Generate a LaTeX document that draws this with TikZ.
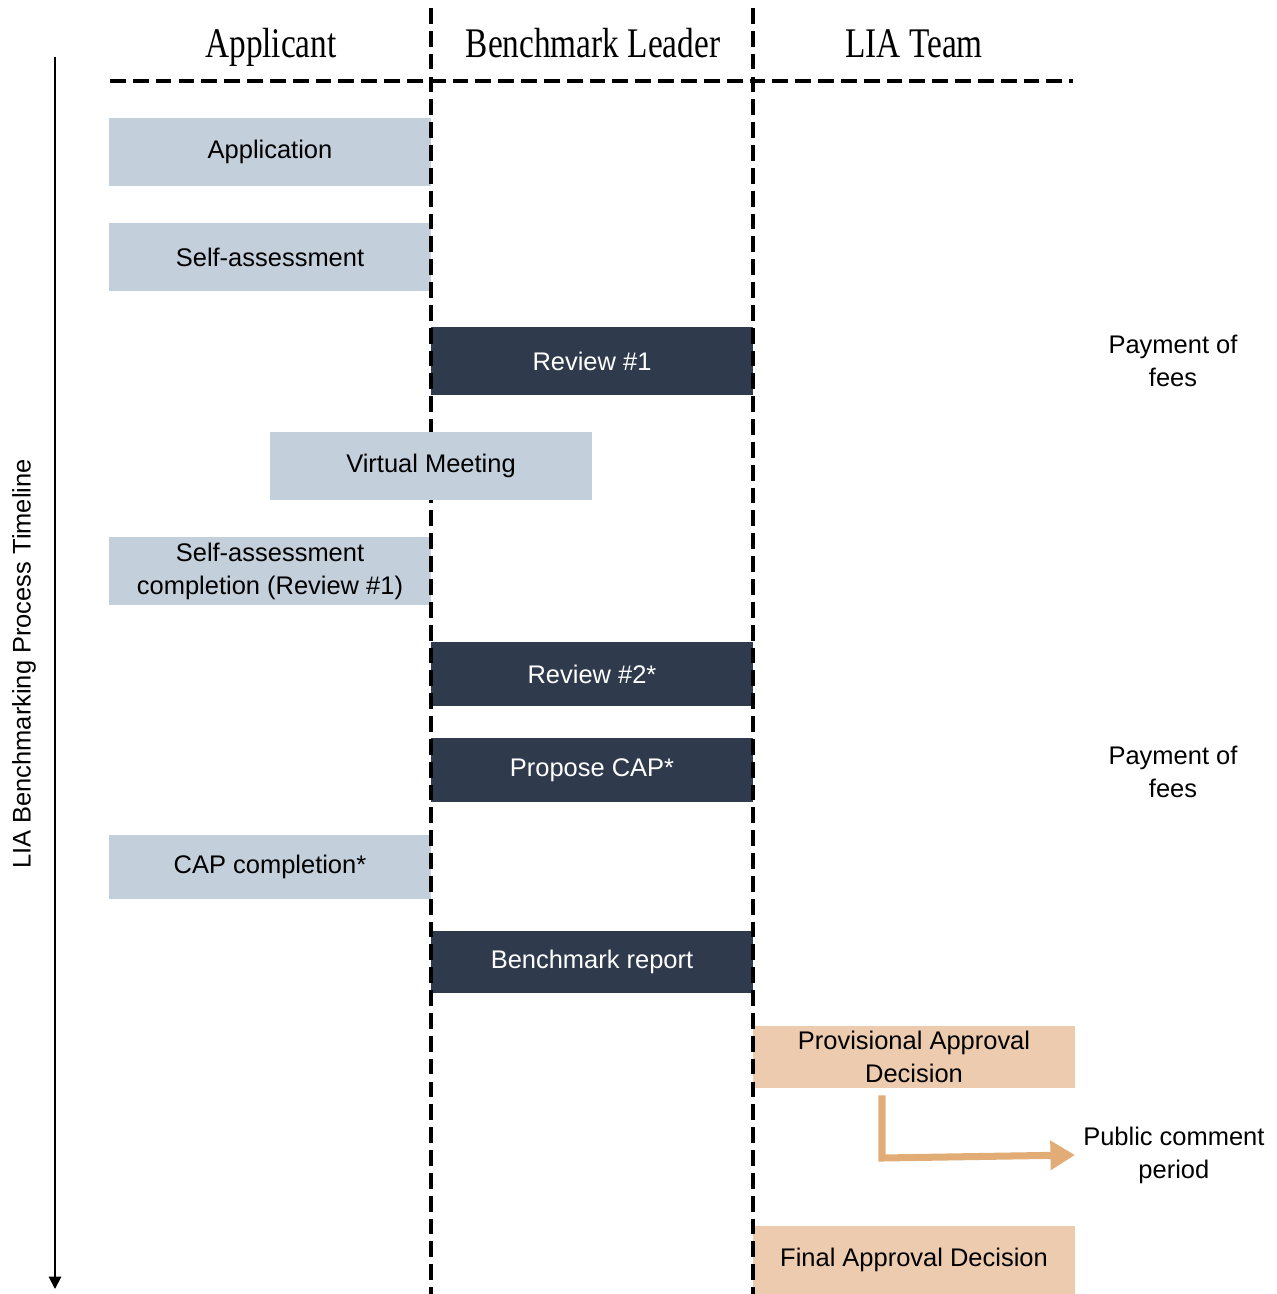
\documentclass[tikz,border=0pt]{standalone}
\usepackage{fontspec}
\setmainfont{Liberation Sans}
\newfontfamily\headfont[FakeStretch=0.79]{Liberation Serif}
\usetikzlibrary{arrows.meta}

\definecolor{lanelight}{HTML}{C3CFDB}
\definecolor{lanedark}{HTML}{2F3B4C}
\definecolor{lanepeach}{HTML}{EDCBAF}
\definecolor{flowarrow}{HTML}{E1AC76}

\tikzset{
  bodytext/.style={font=\fontsize{14.5}{18.7}\selectfont, align=center},
  headtext/.style={font=\headfont\fontsize{24}{28}\selectfont, anchor=base},
  box/.style={rectangle, inner sep=0pt, minimum width=6.44cm, bodytext},
  lightbox/.style={box, fill=lanelight, text=black},
  darkbox/.style={box, fill=lanedark, text=white},
  peachbox/.style={box, fill=lanepeach, text=black},
  lanedash/.style={line width=2.1pt, dash pattern=on 9pt off 4pt},
  sidenote/.style={bodytext, inner sep=4.5pt},
  flow/.style={draw=flowarrow, line width=4pt,
    -{Triangle[length=14pt,width=16pt]}},
}

\begin{document}
\begin{tikzpicture}[x=0.02cm, y=-0.02cm]
\useasboundingbox (0,0) rectangle (1277,1294);

% column headers
\node[headtext] (hApp) at (271,58) {Applicant};
\node[headtext] (hBL)  at (593,58) {Benchmark Leader};
\node[headtext] (hLIA) at (914,58) {LIA Team};

% process steps
\node[lightbox, minimum height=1.36cm] (app)   at (270,152) {Application};
\node[lightbox, minimum height=1.36cm] (self)  at (270,257) {Self-assessment};
\node[darkbox,  minimum height=1.36cm] (rev1)  at (592,361) {Review \#1};
\node[lightbox, minimum height=1.36cm] (selfc) at (270,571) {Self-assessment\\completion (Review \#1)};
\node[darkbox,  minimum height=1.28cm] (rev2)  at (592,674) {Review \#2*};
\node[darkbox,  minimum height=1.28cm] (cap)   at (592,770) {Propose CAP*};
\node[lightbox, minimum height=1.28cm] (capc)  at (270,867) {CAP completion*};
\node[darkbox,  minimum height=1.24cm] (bench) at (592,962) {Benchmark report};
\node[peachbox, minimum height=1.24cm] (prov)  at (914,1057) {Provisional Approval\\Decision};
\node[peachbox, minimum height=1.36cm] (final) at (914,1260) {Final Approval Decision};

% swimlane separators
\coordinate (l1top) at (431,8);
\coordinate (l1bot) at (431,1294);
\coordinate (l2top) at (753,8);
\coordinate (l2bot) at (753,1294);
\coordinate (hl) at (110,81);
\coordinate (hr) at (1073,81);
\draw[lanedash] (l1top) -- (l1bot);
\draw[lanedash] (l2top) -- (l2bot);
\draw[lanedash] (hl) -- (hr);

% shared step spanning two lanes
\node[lightbox, minimum height=1.36cm] (vm) at (431,466) {Virtual Meeting};

% side notes
\node[sidenote] (pay1) at (1173,361) {Payment of\\fees};
\node[sidenote] (pay2) at (1173,772) {Payment of\\fees};
\node[sidenote, anchor=west] (pub) at (1075,1155) {Public comment\\period};

% public comment branch
\coordinate (bend) at (882,1158);
\draw[flow] ([yshift=-4pt]prov.south -| bend) -- (bend) -- (pub.west);

% timeline axis
\coordinate (tTop) at (55,57);
\coordinate (tBot) at (55,1289);
\draw[line width=1.1pt, -{Triangle[length=7pt,width=7pt]}] (tTop) -- (tBot);
\node[bodytext, rotate=90] (tl) at (24,664) {LIA Benchmarking Process Timeline};
\end{tikzpicture}
\end{document}
